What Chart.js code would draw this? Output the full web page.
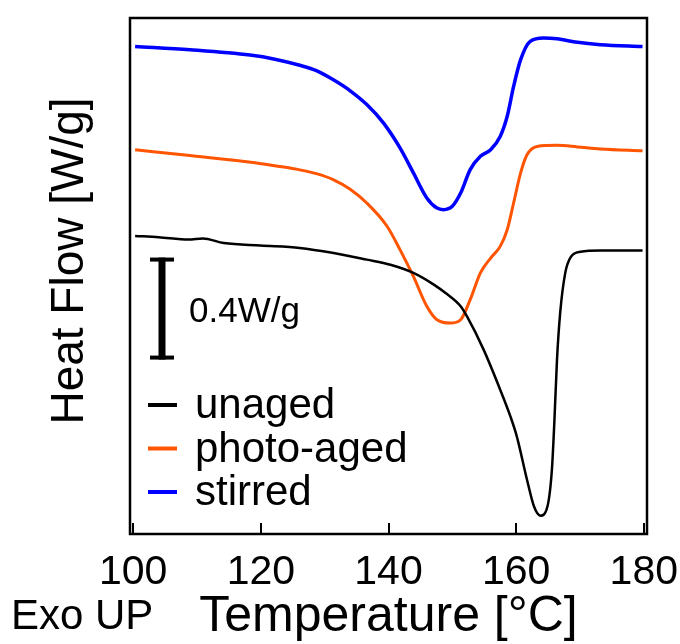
<!DOCTYPE html>
<html>
<head>
<meta charset="utf-8">
<script src="https://cdn.jsdelivr.net/npm/chart.js@4.4.1/dist/chart.umd.min.js"></script>
<style>
  html, body { margin: 0; padding: 0; background: #fff; }
</style>
</head>
<body>
<canvas id="dsc" width="680" height="644"></canvas>
<script>
// DSC curves, temperature in °C, heat flow in W/g (curves offset)
const tempUnaged = [100.3, 104.0, 108.7, 110.9, 114.2, 119.9, 126.1, 131.4, 136.6, 140.3, 143.9, 147.1, 149.1, 151.3, 152.3, 154.9, 157.5, 159.1, 160.1, 161.7, 162.8, 163.8, 164.9, 165.6, 166.0, 166.4, 166.9, 167.7, 168.5, 170.1, 173.2, 179.8];
const flowUnaged = [1.169, 1.164, 1.155, 1.159, 1.141, 1.131, 1.122, 1.102, 1.076, 1.056, 1.024, 0.978, 0.942, 0.893, 0.853, 0.723, 0.566, 0.461, 0.383, 0.213, 0.108, 0.072, 0.108, 0.252, 0.448, 0.684, 0.868, 1.025, 1.084, 1.107, 1.112, 1.112];

const tempPhoto = [100.3, 108.9, 119.1, 122.2, 126.1, 128.7, 131.4, 134.0, 136.6, 139.8, 141.8, 143.9, 146.0, 147.6, 149.7, 151.3, 152.8, 154.4, 156.0, 157.5, 158.6, 159.6, 160.7, 161.7, 163.3, 166.4, 169.6, 173.2, 179.8];
const flowPhoto = [1.507, 1.484, 1.456, 1.444, 1.428, 1.413, 1.389, 1.352, 1.298, 1.206, 1.115, 1.010, 0.893, 0.840, 0.827, 0.840, 0.919, 1.024, 1.082, 1.128, 1.193, 1.298, 1.416, 1.487, 1.520, 1.524, 1.518, 1.510, 1.503];

const tempStirred = [100.3, 108.9, 118.3, 122.2, 126.1, 128.7, 131.3, 134.0, 136.6, 139.2, 141.8, 143.9, 146.0, 147.6, 148.6, 150.0, 151.3, 152.8, 154.4, 156.0, 157.5, 158.6, 159.6, 160.7, 162.2, 164.3, 166.4, 169.6, 173.2, 179.8];
const flowStirred = [1.912, 1.899, 1.878, 1.862, 1.838, 1.817, 1.782, 1.738, 1.684, 1.612, 1.514, 1.416, 1.318, 1.278, 1.272, 1.285, 1.337, 1.429, 1.481, 1.507, 1.559, 1.638, 1.755, 1.860, 1.932, 1.945, 1.942, 1.928, 1.919, 1.912];

const xTicks = [100, 120, 140, 160, 180];
const seriesNames = ["unaged", "photo-aged", "stirred"];
const seriesColors = ["#000000", "#ff5500", "#0000ff"];
const scaleBarSize = 0.4; // W/g
const scaleBarLabel = "0.4W/g";

const FONT = "'Liberation Sans', Arial, Helvetica, sans-serif";
Chart.defaults.font.family = FONT;
Chart.defaults.color = "#000";

function pts(xs, ys) {
    return xs.map((t, i) => ({ x: t, y: ys[i] }));
}

// frame, scale bar, legend, y title and the "Exo UP" note
const extras = {
    id: "extras",
    afterDraw(chart) {
        const { ctx, chartArea: a, scales: { y } } = chart;
        ctx.save();

        ctx.strokeStyle = "#000";
        ctx.lineWidth = 2.5;
        ctx.strokeRect(a.left, a.top, a.right - a.left, a.bottom - a.top);

        // scale bar (I shape)
        const yb = y.getPixelForValue(0.684);
        const yt = y.getPixelForValue(0.684 + scaleBarSize);
        const bx = 162;
        ctx.fillStyle = "#000";
        ctx.fillRect(bx - 3.5, yt, 7, yb - yt);
        ctx.fillRect(bx - 12, yt, 24, 4);
        ctx.fillRect(bx - 12, yb - 4, 24, 4);
        ctx.font = "35px " + FONT;
        ctx.textAlign = "left";
        ctx.textBaseline = "alphabetic";
        ctx.fillText(scaleBarLabel, 189, 322);

        // legend
        ctx.font = "42px " + FONT;
        chart.data.datasets.forEach((ds, i) => {
            const ly = 405 + i * 43.5;
            ctx.strokeStyle = ds.borderColor;
            ctx.lineWidth = 4;
            ctx.beginPath();
            ctx.moveTo(148, ly);
            ctx.lineTo(177, ly);
            ctx.stroke();
            ctx.fillStyle = "#000";
            ctx.fillText(ds.label, 195, ly + 13);
        });

        // y axis title
        ctx.save();
        ctx.translate(70, 261);
        ctx.rotate(-Math.PI / 2);
        ctx.textAlign = "center";
        ctx.textBaseline = "middle";
        ctx.font = "46px " + FONT;
        ctx.fillText("Heat Flow [W/g]", 0, 0);
        ctx.restore();

        ctx.font = "42px " + FONT;
        ctx.textAlign = "left";
        ctx.fillText("Exo UP", 11, 629);

        ctx.restore();
    }
};

new Chart(document.getElementById("dsc"), {
    type: "line",
    data: {
        datasets: [
            { label: seriesNames[0], data: pts(tempUnaged, flowUnaged), borderColor: seriesColors[0], borderWidth: 2.5 },
            { label: seriesNames[1], data: pts(tempPhoto, flowPhoto), borderColor: seriesColors[1], borderWidth: 3 },
            { label: seriesNames[2], data: pts(tempStirred, flowStirred), borderColor: seriesColors[2], borderWidth: 3.5 }
        ]
    },
    options: {
        responsive: false,
        animation: false,
        elements: {
            point: { radius: 0 },
            line: { cubicInterpolationMode: "monotone", fill: false }
        },
        layout: { padding: { top: 18, right: 33, left: 0, bottom: 0 } },
        plugins: { legend: { display: false }, tooltip: { enabled: false } },
        scales: {
            x: {
                type: "linear",
                min: 99.5,
                max: 180.5,
                afterBuildTicks: s => { s.ticks = xTicks.map(v => ({ value: v })); },
                afterFit: s => { s.height = 110; s.paddingLeft = 0; s.paddingRight = 0; },
                grid: { drawOnChartArea: false, drawTicks: true, tickLength: -11, color: "#000", lineWidth: 2 },
                border: { display: false },
                ticks: { color: "#000", font: { size: 41 }, padding: 25, maxRotation: 0, autoSkip: false },
                title: { display: true, text: "Temperature [°C]", color: "#000", font: { size: 50, lineHeight: 1 }, padding: { top: 0, bottom: 2 } }
            },
            y: {
                min: 0,
                max: 2.0235,
                ticks: { display: false },
                grid: { display: false },
                border: { display: false },
                afterFit: s => { s.width = 130; }
            }
        }
    },
    plugins: [extras]
});
</script>
</body>
</html>
